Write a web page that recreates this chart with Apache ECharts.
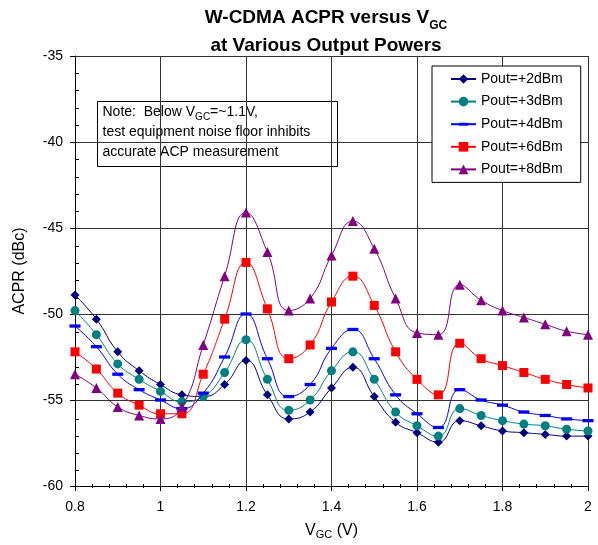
<!DOCTYPE html>
<html>
<head>
<meta charset="utf-8">
<script src="https://cdn.jsdelivr.net/npm/echarts@6/dist/echarts.min.js"></script>
<style>
html,body{margin:0;padding:0;background:#fff;}
#chart{width:598px;height:545px;}
</style>
</head>
<body>
<div id="chart"></div>
<script>
// ---- data ----
const xs = [0.8,0.85,0.9,0.95,1.0,1.05,1.1,1.15,1.2,1.25,1.3,1.35,1.4,1.45,1.5,1.55,1.6,1.65,1.7,1.75,1.8,1.85,1.9,1.95,2.0];
const seriesNames = ['Pout=+2dBm','Pout=+3dBm','Pout=+4dBm','Pout=+6dBm','Pout=+8dBm'];
const p2 = [-48.9,-50.3,-52.2,-53.3,-54.1,-54.7,-54.8,-54.1,-52.7,-54.7,-56.1,-55.7,-54.3,-53.1,-54.8,-56.3,-56.9,-57.45,-56.2,-56.5,-56.8,-56.9,-57.0,-57.1,-57.1];
const p3 = [-49.8,-51.2,-52.9,-53.8,-54.5,-55.1,-54.8,-53.4,-51.5,-53.8,-55.6,-55.0,-53.3,-52.2,-53.8,-55.7,-56.5,-57.1,-55.5,-55.9,-56.2,-56.4,-56.5,-56.7,-56.8];
const p4 = [-50.7,-51.9,-53.5,-54.4,-55.0,-55.5,-54.6,-52.5,-50.0,-52.6,-54.8,-54.1,-52.0,-50.9,-52.6,-54.7,-55.8,-56.6,-54.4,-55.0,-55.3,-55.7,-55.9,-56.1,-56.2];
const p6 = [-52.2,-53.2,-54.6,-55.3,-55.8,-55.8,-53.5,-50.3,-47.0,-49.7,-52.6,-51.8,-49.3,-47.8,-49.5,-52.2,-53.8,-54.7,-51.7,-52.6,-53.0,-53.4,-53.8,-54.1,-54.3];
const p8 = [-53.5,-54.3,-55.4,-55.9,-56.1,-55.4,-51.8,-47.8,-44.1,-46.4,-49.8,-49.1,-46.6,-44.6,-46.2,-49.1,-51.1,-51.2,-48.3,-49.2,-49.8,-50.2,-50.6,-51.0,-51.2];
const xMin = 0.8, xMax = 2.0, xStep = 0.2;
const yMin = -60, yMax = -35, yStep = 5;

const FONT = '"Liberation Sans", Arial, sans-serif';
const colors = ['#000080','#008080','#0000FF','#FF0000','#800080'];
const dashPath = 'path://M0,0M10,10M0,3.5h10v3h-10z';
const symbols = ['diamond','circle',dashPath,'rect','triangle'];
const symbolSizes = [9,9,11,9,10];
const values = [p2,p3,p4,p6,p8];

const chart = echarts.init(document.getElementById('chart'), null, {renderer:'canvas'});

const gridPos = {left:75, right:10, top:56, bottom:57, containLabel:false};

const series = values.map((v, k) => ({
  name: seriesNames[k],
  type: 'line',
  xAxisIndex: 0, yAxisIndex: 0,
  data: xs.map((x, i) => [x, v[i]]),
  smooth: 0.5,
  symbol: symbols[k],
  symbolSize: symbolSizes[k],
  showAllSymbol: true,
  color: colors[k],
  lineStyle: {color: colors[k], width: 1},
  itemStyle: {color: colors[k]},
  emphasis: {disabled: true},
  z: 3 + k
}));

const option = {
  animation: false,
  backgroundColor: '#fff',
  title: {
    text: '{b|W-CDMA ACPR versus V}{bs|GC}\n{b|at Various Output Powers}',
    left: 326, top: 4.5, padding: 0, textAlign: 'center',
    textStyle: {
      fontFamily: FONT, fontSize: 19, fontWeight: 'bold', color: '#000', lineHeight: 27.5,
      rich: {
        b: {fontFamily: FONT, fontSize: 19, fontWeight: 'bold', color: '#000', lineHeight: 27.5},
        bs: {fontFamily: FONT, fontSize: 12, fontWeight: 'bold', color: '#000', lineHeight: 19, verticalAlign: 'bottom'}
      }
    }
  },
  legend: {
    orient: 'vertical',
    left: 432, top: 66,
    padding: [6, 18, 6, 18],
    itemWidth: 25, itemHeight: 12, itemGap: 8.6,
    backgroundColor: '#fff',
    borderColor: '#000', borderWidth: 1, borderRadius: 0,
    selectedMode: false,
    textStyle: {fontFamily: FONT, fontSize: 14, color: '#000'},
    data: seriesNames
  },
  grid: [Object.assign({}, gridPos), Object.assign({}, gridPos)],
  xAxis: [{
    type: 'value', gridIndex: 0, min: xMin, max: xMax, interval: xStep,
    axisLine: {show: true, onZero: false, lineStyle: {color: '#000', width: 1}},
    axisTick: {show: true, length: 5, lineStyle: {color: '#000'}},
    axisLabel: {fontFamily: FONT, fontSize: 14, color: '#000', margin: 14},
    splitLine: {show: true, lineStyle: {color: '#333', width: 1}},
    name: '{n|V}{s|GC}{n| (V)}',
    nameLocation: 'middle', nameGap: 35,
    nameTextStyle: {
      fontFamily: FONT, fontSize: 16, color: '#000',
      rich: {
        n: {fontFamily: FONT, fontSize: 16, color: '#000', lineHeight: 19},
        s: {fontFamily: FONT, fontSize: 11, color: '#000', lineHeight: 13, verticalAlign: 'bottom'}
      }
    }
  }, {
    type: 'value', gridIndex: 1, min: xMin, max: xMax, interval: xStep,
    axisLine: {show: false},
    axisTick: {show: false, inside: true},
    minorTick: {show: true, splitNumber: 5, length: 4, lineStyle: {color: '#000', width: 1}},
    axisLabel: {show: false},
    splitLine: {show: false}
  }],
  yAxis: [{
    type: 'value', gridIndex: 0, min: yMin, max: yMax, interval: yStep,
    axisLine: {show: true, onZero: false, lineStyle: {color: '#000', width: 1}},
    axisTick: {show: true, length: 5, lineStyle: {color: '#000'}},
    axisLabel: {fontFamily: FONT, fontSize: 14, color: '#000', margin: 12},
    splitLine: {show: true, lineStyle: {color: '#333', width: 1}},
    name: 'ACPR (dBc)',
    nameLocation: 'middle', nameGap: 47,
    nameTextStyle: {fontFamily: FONT, fontSize: 16, color: '#000'}
  }, {
    type: 'value', gridIndex: 1, min: yMin, max: yMax, interval: yStep,
    axisLine: {show: false},
    axisTick: {show: false, inside: true},
    minorTick: {show: true, splitNumber: 5, length: 4, lineStyle: {color: '#000', width: 1}},
    axisLabel: {show: false},
    splitLine: {show: false}
  }],
  graphic: [{
    type: 'group', left: 97, top: 101, z: 50,
    children: [{
      type: 'rect',
      shape: {x: 0, y: 0, width: 240, height: 65},
      style: {fill: '#fff', stroke: '#000', lineWidth: 1}
    }, {
      type: 'text', x: 5, y: 1,
      style: {
        text: '{n|Note:  Below V}{s|GC}{n|=~1.1V,}\n{n|test equipment noise floor inhibits}\n{n|accurate ACP measurement}',
        fill: '#000', font: '14px ' + FONT, align: 'left', verticalAlign: 'top',
        rich: {
          n: {fontFamily: FONT, fontSize: 14, fill: '#000', color: '#000', lineHeight: 20},
          s: {fontFamily: FONT, fontSize: 10, fill: '#000', color: '#000', lineHeight: 13, verticalAlign: 'bottom'}
        }
      }
    }]
  }],
  series: series
};
chart.setOption(option);
</script>
</body>
</html>
